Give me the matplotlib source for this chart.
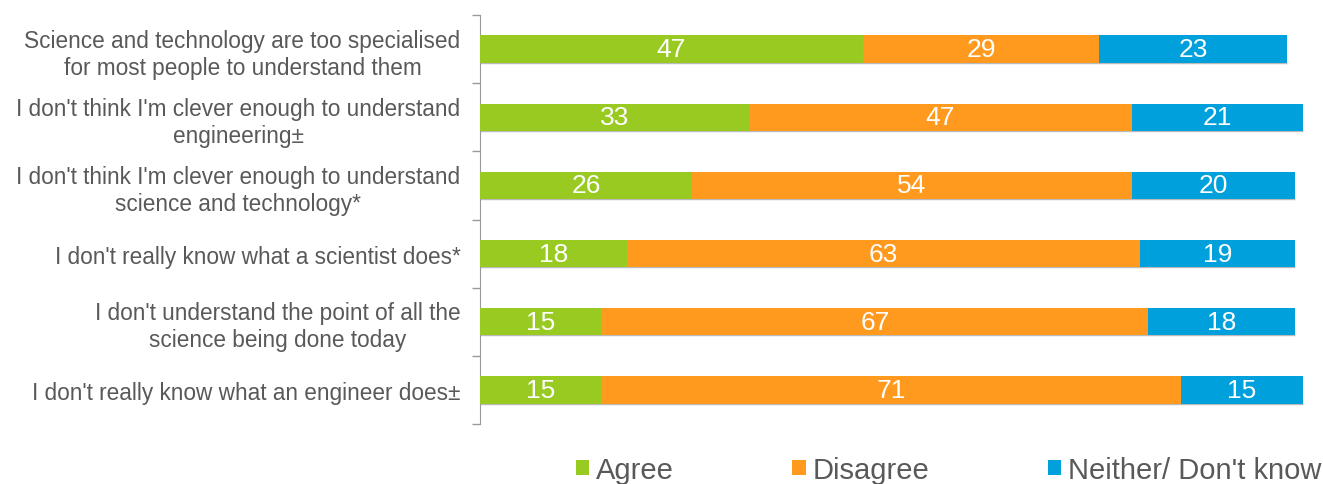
import matplotlib
matplotlib.use("Agg")
import matplotlib.pyplot as plt
from matplotlib.patches import Patch

categories = [
    "Science and technology are too specialised\nfor most people to understand them",
    "I don't think I'm clever enough to understand\nengineering\u00b1",
    "I don't think I'm clever enough to understand\nscience and technology*",
    "I don't really know what a scientist does*",
    "I don't understand the point of all the\nscience being done today",
    "I don't really know what an engineer does\u00b1",
]
agree = [47, 33, 26, 18, 15, 15]
disagree = [29, 47, 54, 63, 67, 71]
neither = [23, 21, 20, 19, 18, 15]
series_names = ["Agree", "Disagree", "Neither/ Don't know"]
colors = ["#99CA22", "#FF9A1F", "#00A0DC"]

plt.rcParams['font.family'] = ['Liberation Sans', 'DejaVu Sans']

fig = plt.figure(figsize=(13.23, 4.85), dpi=100)
ax = fig.add_axes([480/1323, 1-425/485, 815/1323, 409/485])

n = len(categories)
ys = list(range(n))
left = [0]*n
for vals, col in zip([agree, disagree, neither], colors):
    ax.barh(ys, vals, left=left, height=0.4, color=col, clip_on=False, zorder=3)
    for y, v, l in zip(ys, vals, left):
        ax.text(l + v/2, y, str(v), ha='center', va='center', color='white',
                fontsize=19, zorder=4)
    left = [a+b for a, b in zip(left, vals)]
# subtle gray line under each bar
for y, tot in zip(ys, left):
    ax.plot([0, tot], [y+0.2, y+0.2], color='#BBBBBB', lw=1, zorder=2,
            clip_on=False, solid_capstyle='butt')

ax.set_xlim(0, 100)
ax.set_ylim(n-0.5, -0.5)
ax.set_yticks([i-0.5 for i in range(n+1)])
ax.set_yticklabels([])
ax.set_yticks(ys, minor=True)
labels = ax.set_yticklabels(categories, minor=True, fontsize=16.3, color='#595959',
                            ha='right', multialignment='center')
for t in labels:
    t.set_linespacing(1.22)
ax.tick_params(axis='y', which='minor', length=0, pad=14)
ax.tick_params(axis='y', which='major', length=6, color='#999999', width=1)
ax.set_xticks([])
for s in ['top', 'right', 'bottom']:
    ax.spines[s].set_visible(False)
ax.spines['left'].set_color('#999999')

handles = [Patch(facecolor=c, label=l) for c, l in zip(colors, series_names)]
leg = fig.legend(handles=handles, loc='center left',
                 bbox_to_anchor=(576/1323, 1-471/485),
                 ncol=3, frameon=False, fontsize=21, handlelength=0.45,
                 handleheight=0.45, handletextpad=0.25, columnspacing=4.05,
                 borderpad=0, borderaxespad=0)
for t in leg.get_texts():
    t.set_color('#595959')

fig.savefig("out.png", dpi=100)
